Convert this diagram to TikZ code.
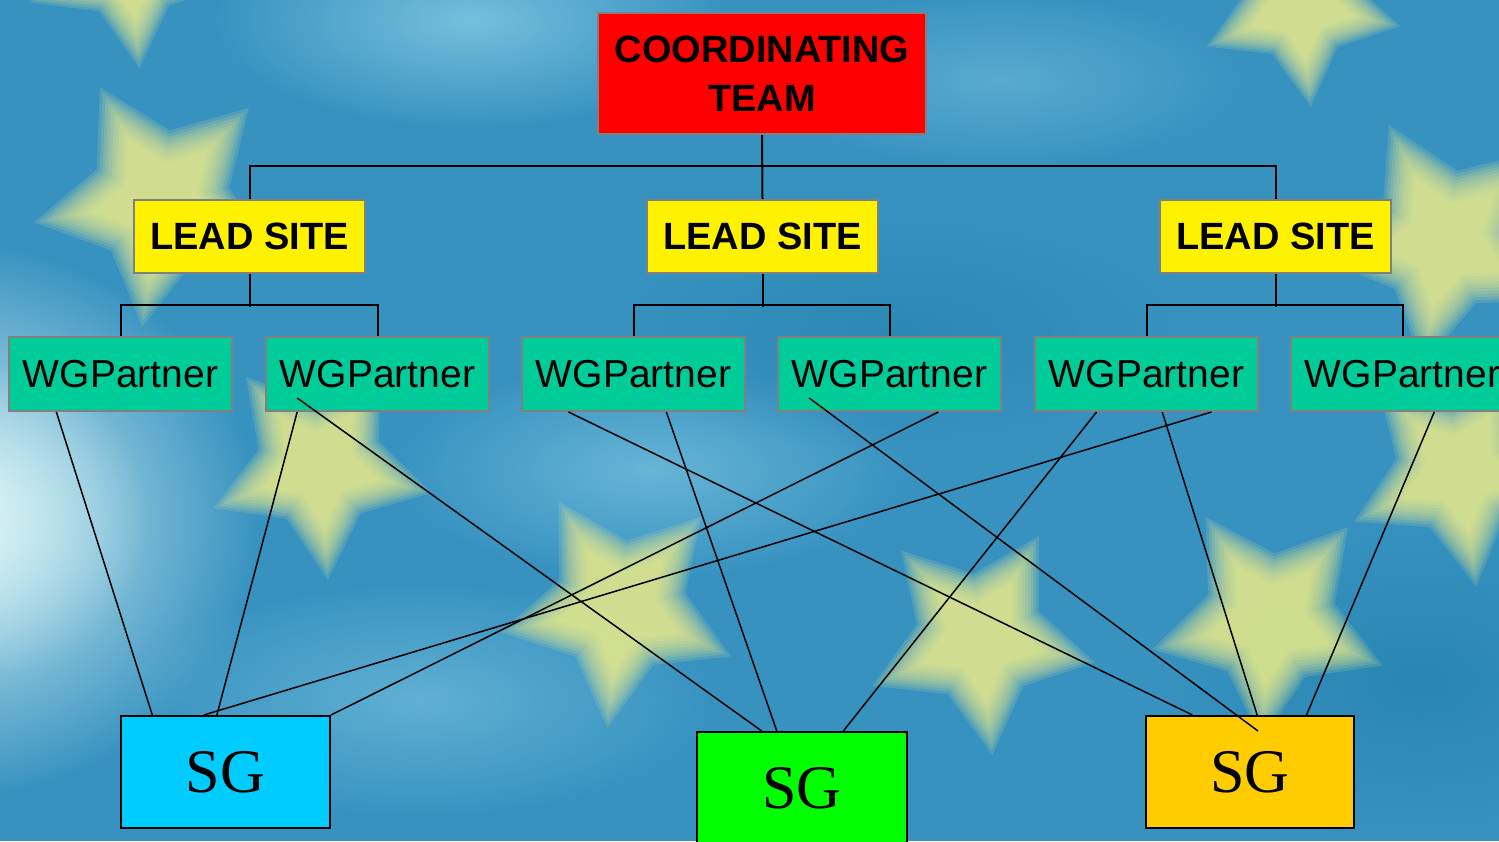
\documentclass[tikz,border=0pt]{standalone}
\usepackage{fontspec}
\setmainfont{Liberation Sans}
\newfontfamily\sgserif{Liberation Serif}
\usetikzlibrary{calc,fadings}
\tikzfading[name=softglow, inner color=transparent!0, outer color=transparent!100]
\definecolor{bgblue}{HTML}{3792C0}
\definecolor{bgdark}{HTML}{1F7FAA}
\definecolor{bglight}{HTML}{7CC4E0}
\definecolor{glowc}{HTML}{DDF6F7}
\definecolor{starcol}{HTML}{F6F288}
\definecolor{boxgray}{HTML}{808080}
\definecolor{wggreen}{HTML}{00CC99}
\definecolor{sgcyan}{HTML}{00CCFF}
\definecolor{sggreen}{HTML}{00FF00}
\definecolor{sggold}{HTML}{FFCC00}
\newcommand\bgstar[4]{%
  \foreach \k in {1.28,1.22,1.16,1.10,1.04,0.98,0.92,0.86,0.80,0.74,0.68}{%
    \fill[starcol, opacity=0.14, line join=round, shift={(#1,#2)}, rotate=#4, scale=#3*\k]
      (90:1) -- (126:0.55) -- (162:1) -- (198:0.55) -- (234:1) -- (270:0.55)
      -- (306:1) -- (342:0.55) -- (18:1) -- (54:0.55) -- cycle;}%
}
\tikzset{
  ctbox/.style={draw=boxgray, line width=2pt, fill=red, minimum width=328pt,
    minimum height=121pt, inner sep=0pt, align=center,
    font=\bfseries\fontsize{38}{49}\selectfont},
  lsbox/.style={draw=boxgray, line width=2pt, fill=yellow, minimum width=231pt,
    minimum height=73pt, inner sep=0pt, font=\bfseries\fontsize{38}{46}\selectfont},
  wgbox/.style={draw=boxgray, line width=2pt, fill=wggreen, minimum width=223pt,
    minimum height=74pt, inner sep=0pt, font=\fontsize{39}{47}\selectfont},
  sgbox/.style={draw=black, line width=2pt, minimum width=209pt,
    minimum height=112pt, inner sep=0pt, font=\sgserif\fontsize{62}{70}\selectfont},
  tree/.style={draw=black, line width=2pt},
  diag/.style={draw=black, line width=1.5pt},
}
\begin{document}
\begin{tikzpicture}[x=1pt,y=-1pt]
\useasboundingbox (0,0) rectangle (1499,841);
\begin{scope}
\clip (0,0) rectangle (1499,841);
\fill[bgblue] (0,0) rectangle (1499,841);
% soft light and dark areas
\fill[bglight, path fading=softglow, opacity=0.9] (470,20) ellipse (260 and 110);
\fill[bglight, path fading=softglow, opacity=0.7] (650,470) ellipse (260 and 110);
\fill[bglight, path fading=softglow, opacity=0.6] (420,700) ellipse (300 and 120);
\fill[bglight, path fading=softglow, opacity=0.5] (1000,80) ellipse (250 and 90);
\fill[bgdark, path fading=softglow, opacity=0.6] (1420,680) ellipse (260 and 160);
\fill[bgdark, path fading=softglow, opacity=0.5] (900,330) ellipse (300 and 120);
\fill[glowc, path fading=softglow] (-60,520) ellipse (320 and 280);
\fill[glowc, path fading=softglow, opacity=0.7] (-20,520) ellipse (170 and 160);
% blurred stars
\bgstar{130}{-40}{85}{5}
\bgstar{160}{200}{100}{-8}
\bgstar{320}{465}{90}{4}
\bgstar{620}{607}{95}{-6}
\bgstar{980}{638}{92}{6}
\bgstar{1270}{620}{95}{-4}
\bgstar{1460}{470}{92}{8}
\bgstar{1445}{240}{100}{-10}
\bgstar{1300}{5}{80}{6}
\end{scope}

% nodes
\node[ctbox] (ct) at (762,73.5) {COORDINATING\\TEAM};
\node[lsbox] (ls1) at (249.5,236.5) {LEAD SITE};
\node[lsbox] (ls2) at (762.5,236.5) {LEAD SITE};
\node[lsbox] (ls3) at (1275.5,236.5) {LEAD SITE};
\node[wgbox] (wg1) at (120.5,374) {WGPartner};
\node[wgbox] (wg2) at (377.5,374) {WGPartner};
\node[wgbox] (wg3) at (633.5,374) {WGPartner};
\node[wgbox] (wg4) at (889.5,374) {WGPartner};
\node[wgbox] (wg5) at (1146.5,374) {WGPartner};
\node[wgbox] (wg6) at (1402.5,374) {WGPartner};
\node[sgbox, fill=sgcyan] (sg1) at (225.5,772) {SG};
\node[sgbox, fill=sggreen, minimum width=210pt] (sg2) at (802,788) {SG};
\node[sgbox, fill=sggold, minimum width=208pt] (sg3) at (1250,772) {SG};

% tree connectors
\draw[tree] (ct.south) -- (ls2.north);
\draw[tree] (ls1.north) -- ++(0,-33) -| (ls3.north);
\draw[tree] (ls1.south) -- ++(0,33);
\draw[tree] (ls2.south) -- ++(0,33);
\draw[tree] (ls3.south) -- ++(0,33);
\draw[tree] (wg1.north) -- ++(0,-31) -| (wg2.north);
\draw[tree] (wg3.north) -- ++(0,-31) -| (wg4.north);
\draw[tree] (wg5.north) -- ++(0,-31) -| (wg6.north);

% cross connectors
\draw[diag] ($(wg1.south west)!.215!(wg1.south east)$) -- ($(sg1.north west)!.153!(sg1.north east)$);
\draw[diag] ($(wg2.south west)!.143!(wg2.south east)$) -- ($(sg1.north west)!.459!(sg1.north east)$);
\draw[diag] ($(wg2.south west)!.143!(wg2.south east)+(0,-14)$) -- ($(sg2.north west)!.31!(sg2.north east)$);
\draw[diag] ($(wg3.south west)!.211!(wg3.south east)$) -- ($(sg3.north west)!.226!(sg3.north east)$);
\draw[diag] ($(wg3.south west)!.646!(wg3.south east)$) -- ($(sg2.north west)!.381!(sg2.north east)$);
\draw[diag] ($(wg4.south west)!.143!(wg4.south east)+(0,-14)$) -- ($(sg3.north west)!.538!(sg3.north east)+(0,16)$);
\draw[diag] ($(wg4.south west)!.717!(wg4.south east)$) -- (sg1.north east);
\draw[diag] ($(wg5.south west)!.278!(wg5.south east)$) -- ($(sg2.north west)!.695!(sg2.north east)$);
\draw[diag] ($(wg5.south west)!.789!(wg5.south east)$) -- ($(sg1.north west)!.397!(sg1.north east)$);
\draw[diag] ($(wg5.south west)!.57!(wg5.south east)$) -- ($(sg3.north west)!.534!(sg3.north east)$);
\draw[diag] ($(wg6.south west)!.641!(wg6.south east)$) -- ($(sg3.north west)!.769!(sg3.north east)$);
\end{tikzpicture}
\end{document}
